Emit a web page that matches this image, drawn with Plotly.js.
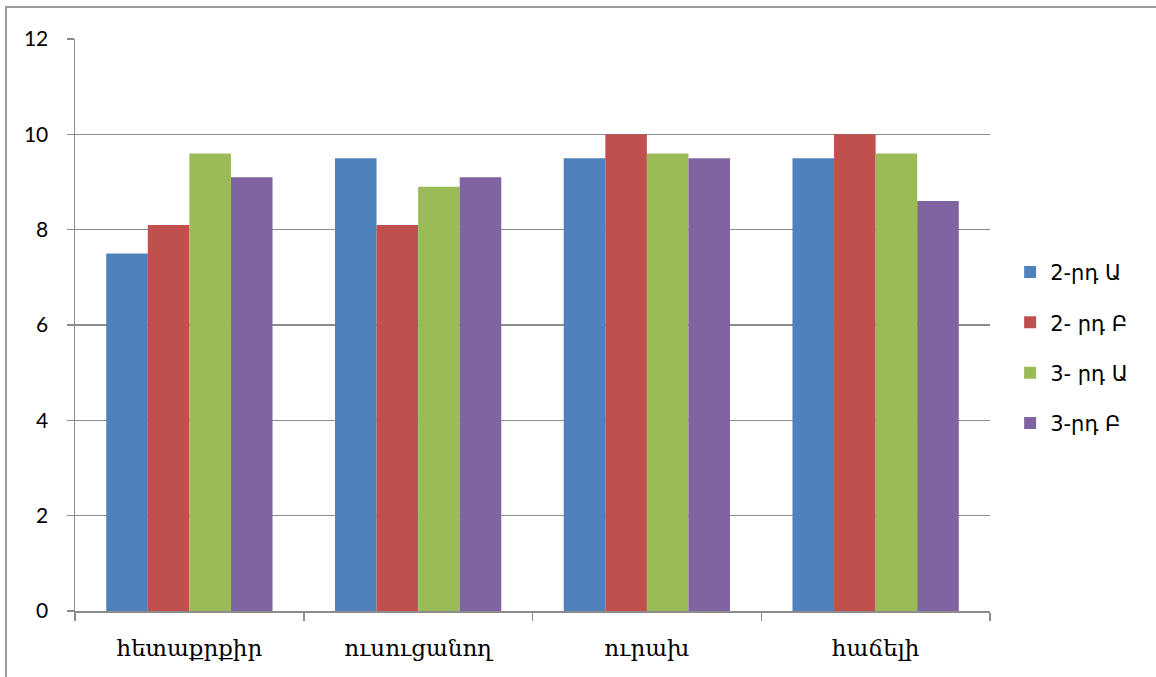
<!DOCTYPE html>
<html>
<head>
<meta charset="utf-8">
<script src="https://cdn.plot.ly/plotly-3.0.1.min.js"></script>
<style>
  html, body { margin: 0; padding: 0; background: #fff; }
  #wrap { position: relative; width: 1156px; height: 677px; overflow: hidden; }
  #chart { position: absolute; left: 0; top: 0; width: 1156px; height: 677px; }
  #frame { position: absolute; left: 5px; top: 6px; width: 1200px; height: 700px;
           border-top: 2px solid #9a9a9a; border-left: 2px solid #9a9a9a; pointer-events: none; }
</style>
</head>
<body>
<div id="wrap">
  <div id="chart"></div>
  <div id="frame"></div>
</div>
<script>
const categories = ["հետաքրքիր", "ուսուցանող", "ուրախ", "հաճելի"];
const seriesNames = ["2-րդ Ա", "2- րդ Բ", "3- րդ Ա", "3-րդ Բ"];
const s2A = [7.5, 9.5, 9.5, 9.5];
const s2B = [8.1, 8.1, 10, 10];
const s3A = [9.6, 8.9, 9.6, 9.6];
const s3B = [9.1, 9.1, 9.5, 8.6];
const yTicks = [0, 2, 4, 6, 8, 10, 12];

const colors = ["#4F81BD", "#C0504D", "#9BBB59", "#8064A2"];
const values = [s2A, s2B, s3A, s3B];

const traces = values.map((v, i) => ({
  type: "bar",
  x: categories,
  y: v,
  name: seriesNames[i],
  legendgroup: "g" + i,
  marker: { color: colors[i], line: { width: 0 } },
  hoverinfo: "x+y+name"
}));

const layout = {
  width: 1156,
  height: 677,
  margin: { l: 75, r: 166, t: 39, b: 66 },
  paper_bgcolor: "#ffffff",
  plot_bgcolor: "#ffffff",
  barmode: "group",
  bargap: 0.273,
  bargroupgap: 0,
  showlegend: true,
  legend: {
    x: 1.022, xanchor: "left",
    y: 0.46, yanchor: "middle",
    font: { family: "DejaVu Sans, Noto Sans, sans-serif", size: 21, color: "#000" },
    tracegroupgap: 20,
    bgcolor: "rgba(0,0,0,0)"
  },
  xaxis: {
    type: "category",
    showline: true,
    linecolor: "#8c8c8c",
    linewidth: 1.5,
    ticks: "outside",
    tickson: "boundaries",
    ticklen: 8,
    tickcolor: "#8c8c8c",
    tickwidth: 1.5,
    showgrid: false,
    tickfont: { family: "DejaVu Serif, serif", size: 23, color: "#000" },
    ticklabelstandoff: 16
  },
  yaxis: {
    range: [0, 12],
    tickvals: yTicks,
    ticktext: yTicks.map(String),
    showline: true,
    linecolor: "#8c8c8c",
    linewidth: 1.5,
    ticks: "outside",
    ticklen: 7,
    tickcolor: "#8c8c8c",
    tickwidth: 1.5,
    showgrid: true,
    gridcolor: "#8c8c8c",
    gridwidth: 1.5,
    zeroline: false,
    tickfont: { family: "Lato, Noto Sans, sans-serif", size: 21, color: "#000" },
    ticklabelstandoff: 14
  }
};

Plotly.newPlot("chart", traces, layout, { displayModeBar: false, staticPlot: true });
</script>
</body>
</html>
